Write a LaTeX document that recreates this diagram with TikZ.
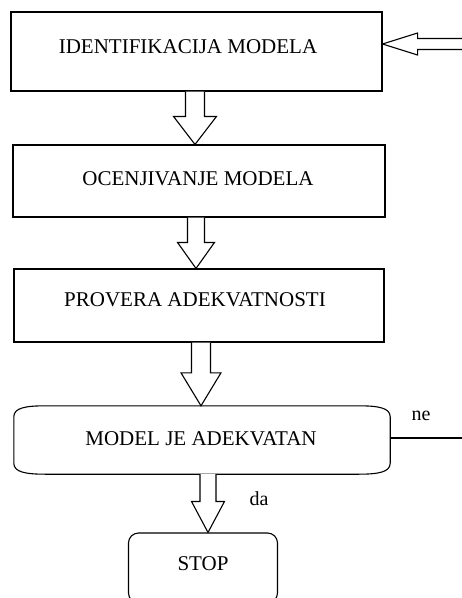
\documentclass[tikz,border=0pt]{standalone}
\usepackage{fontspec}
\setmainfont{Liberation Serif}
\usetikzlibrary{calc}
\newcommand{\blockarr}[5]{%
  \draw[arr] ($(#1)+(-#3,0)$) -- ($(#2)+(-#3,-#5)$) -- ($(#2)+(-#4,-#5)$) -- (#2)
    -- ($(#2)+(#4,-#5)$) -- ($(#2)+(#3,-#5)$) -- ($(#1)+(#3,0)$);}
\begin{document}
\begin{tikzpicture}[x=1pt,y=-1pt,
  box/.style={draw, line width=1.1pt, inner sep=0pt, rectangle},
  lbl/.style={font=\fontsize{21}{24}\selectfont, anchor=base, inner sep=0pt},
  sml/.style={font=\fontsize{20}{24}\selectfont, anchor=base, inner sep=0pt},
  arr/.style={draw, line width=1.1pt, fill=white, line join=miter},
  ln/.style={draw, line width=1.1pt}]
\useasboundingbox (0,0) rectangle (462,598);
\clip (0,0) rectangle (462,598);
% boxes
\node[box, minimum width=371pt, minimum height=79pt] (b1) at (196.5,51.5) {};
\node[lbl] (t1) at (188,53) {IDENTIFIKACIJA MODELA};
\node[box, minimum width=372pt, minimum height=72pt] (b2) at (199,181) {};
\node[lbl] (t2) at (198,185) {OCENJIVANJE MODELA};
\node[box, minimum width=370pt, minimum height=73pt] (b3) at (199,305.5) {};
\node[lbl] (t3) at (195,306) {PROVERA ADEKVATNOSTI};
% decision
\node[inner sep=0pt, minimum width=376pt, minimum height=68pt] (d) at (202,440) {};
\draw[ln] ($(d.north west)+(0,11)$) .. controls ($(d.north west)+(0,2)$) and ($(d.north west)+(12,0)$) .. ($(d.north west)+(32,0)$)
  -- ($(d.north east)+(-32,0)$) .. controls ($(d.north east)+(-12,0)$) and ($(d.north east)+(0,2)$) .. ($(d.north east)+(0,11)$)
  -- ($(d.south east)+(0,-11)$) .. controls ($(d.south east)+(0,-2)$) and ($(d.south east)+(-12,0)$) .. ($(d.south east)+(-32,0)$)
  -- ($(d.south west)+(32,0)$) .. controls ($(d.south west)+(12,0)$) and ($(d.south west)+(0,-2)$) .. ($(d.south west)+(0,-11)$)
  -- cycle;
\node[lbl] (t4) at (201,445) {MODEL JE ADEKVATAN};
% stop
\node[box, rounded corners=10pt, minimum width=149pt, minimum height=70pt] (s) at (203,568) {};
\node[lbl] (t5) at (203,570) {STOP};
% labels
\node[sml] (ne) at (421,420) {ne};
\node[sml] (da) at (259,505) {da};
% arrows
\coordinate (a1) at (195,0);
\coordinate (a2) at (196,0);
\coordinate (a3) at (201,0);
\coordinate (a4) at (208,0);
\coordinate (a1t) at (b1.south -| a1);
\coordinate (a1h) at (b2.north -| a1);
\coordinate (a2t) at (b2.south -| a2);
\coordinate (a2h) at (b3.north -| a2);
\coordinate (a3t) at (b3.south -| a3);
\coordinate (a3h) at (d.north -| a3);
\coordinate (a4t) at (d.south -| a4);
\coordinate (a4h) at (s.north -| a4);
\blockarr{a1t}{a1h}{9.5}{21.5}{28}
\blockarr{a2t}{a2h}{8.5}{18.5}{26}
\blockarr{a3t}{a3h}{9.5}{20}{33}
\blockarr{a4t}{a4h}{8}{16.5}{31}
% feedback arrow into first box
\coordinate (fb) at (470,44);
\coordinate (tip) at (b1.east |- fb);
\draw[arr] (tip) -- ($(tip)+(35,-11)$) -- ($(tip)+(35,-5.5)$) -- ($(fb)+(0,-5.5)$)
  -- ($(fb)+(0,5.5)$) -- ($(tip)+(35,5.5)$) -- ($(tip)+(35,11)$) -- cycle;
% "ne" line
\coordinate (neend) at (470,438);
\draw[ln] (d.east |- neend) -- (neend);
\end{tikzpicture}
\end{document}
